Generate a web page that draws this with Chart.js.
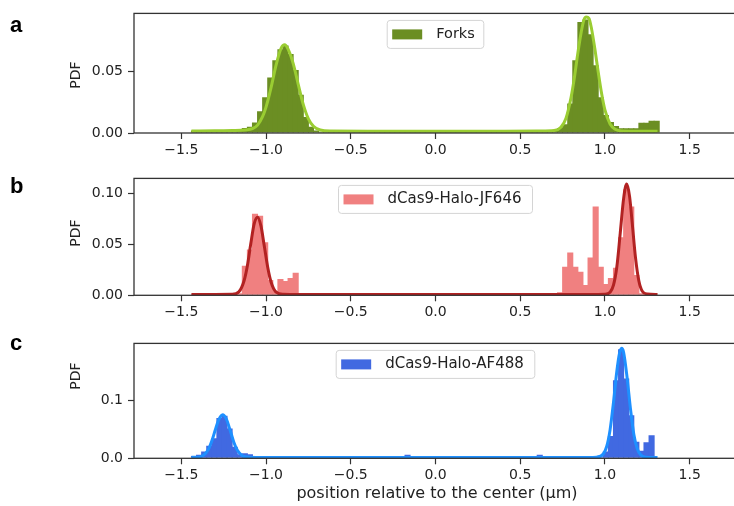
<!DOCTYPE html>
<html>
<head>
<meta charset="utf-8">
<script src="https://cdn.jsdelivr.net/npm/chart.js@4.4.1/dist/chart.umd.min.js"></script>
<style>
html,body{margin:0;padding:0;background:#fff;overflow:hidden;width:734px;height:506px;}
.panel{position:absolute;left:0;}
</style>
</head>
<body>
<canvas id="chartA" class="panel" style="top:0px" width="740" height="165"></canvas>
<canvas id="chartB" class="panel" style="top:165px" width="740" height="165"></canvas>
<canvas id="chartC" class="panel" style="top:330px" width="740" height="176"></canvas>
<script>
// histogram bin centres (um), shared by the three panels
var binCenters=[
	-1.425,-1.395,-1.365,-1.335,-1.305,-1.275,-1.245,-1.215,-1.185,-1.155,
	-1.125,-1.095,-1.065,-1.035,-1.005,-0.975,-0.945,-0.915,-0.885,-0.855,
	-0.825,-0.795,-0.765,-0.735,-0.705,-0.675,-0.645,-0.615,-0.585,-0.555,
	-0.525,-0.495,-0.465,-0.435,-0.405,-0.375,-0.345,-0.315,-0.285,-0.255,
	-0.225,-0.195,-0.165,-0.135,-0.105,-0.075,-0.045,-0.015,0.015,0.045,
	0.075,0.105,0.135,0.165,0.195,0.225,0.255,0.285,0.315,0.345,
	0.375,0.405,0.435,0.465,0.495,0.525,0.555,0.585,0.615,0.645,
	0.675,0.705,0.735,0.765,0.795,0.825,0.855,0.885,0.915,0.945,
	0.975,1.005,1.035,1.065,1.095,1.125,1.155,1.185,1.215,1.245,
	1.275,1.305];

// a: forks
var forksPdf=[
	0.002,0.002,0.001,0.001,0.001,0.001,0.002,0.002,0.003,0.003,
	0.004,0.005,0.0086,0.0177,0.029,0.045,0.059,0.068,0.071,0.064,
	0.051,0.031,0.013,0.005,0.002,0.001,0.001,0.001,0.002,0.001,
	0.001,0.001,0.001,0.001,0.001,0.001,0.002,0.001,0.001,0.001,
	0.001,0.001,0.002,0.001,0.001,0.001,0.001,0.001,0.002,0.001,
	0.001,0.001,0.001,0.001,0.002,0.001,0.001,0.001,0.001,0.001,
	0.001,0.001,0.001,0.001,0.001,0.001,0.001,0.002,0.001,0.001,
	0.002,0.002,0.004,0.007,0.024,0.059,0.090,0.092,0.080,0.055,
	0.029,0.0145,0.009,0.0056,0.0038,0.0038,0.0038,0.0038,0.0083,0.0083,
	0.0099,0.0099];
var forksFitX=[-1.44,-1.30,-1.20,-1.12,-1.08,-1.05,-1.02,-1.00,-0.97,-0.94,-0.91,-0.89,-0.87,-0.84,-0.81,-0.78,-0.75,-0.72,-0.68,-0.62,-0.40,0.00,0.40,0.62,0.70,0.74,0.77,0.80,0.82,0.84,0.86,0.875,0.89,0.905,0.92,0.94,0.96,0.98,1.00,1.03,1.06,1.10,1.20,1.31];
var forksFitY=[0.0016,0.0018,0.002,0.0025,0.0035,0.0064,0.0135,0.021,0.037,0.0555,0.069,0.0715,0.068,0.0565,0.0395,0.023,0.0115,0.0055,0.0024,0.0016,0.0015,0.0015,0.0015,0.0016,0.002,0.0047,0.012,0.029,0.0455,0.065,0.082,0.0915,0.094,0.093,0.085,0.0685,0.0495,0.032,0.0185,0.0073,0.003,0.0017,0.0015,0.0015];

// b: dCas9-Halo-JF646
var jf646Pdf=[
	0.001,0.001,0.001,0.001,0.002,0.001,0.001,0.001,0.001,0.002,
	0.029,0.045,0.080,0.078,0.052,0.015,0.004,0.016,0.014,0.017,
	0.022,0.002,0.002,0.001,0.001,0.001,0,0,0,0,
	0,0,0,0,0,0,0,0,0,0,
	0,0,0,0,0,0,0,0,0,0,
	0,0,0,0,0,0,0,0,0,0,
	0,0,0,0.002,0,0,0,0,0,0,
	0.001,0.002,0.003,0.028,0.042,0.028,0.023,0.010,0.037,0.087,
	0.028,0.011,0.017,0.027,0.057,0.104,0.087,0.020,0.002,0.001,
	0,0];
var jf646FitX=[-1.44,-1.30,-1.20,-1.16,-1.13,-1.11,-1.09,-1.07,-1.05,-1.03,-1.01,-0.99,-0.97,-0.94,-0.90,-0.80,0.00,0.90,1.00,1.03,1.05,1.07,1.09,1.11,1.128,1.145,1.16,1.18,1.20,1.22,1.25,1.31];
var jf646FitY=[0.0008,0.0009,0.001,0.0034,0.014,0.029,0.0505,0.070,0.0765,0.068,0.048,0.0275,0.0128,0.003,0.001,0.0008,0.0008,0.0008,0.001,0.003,0.010,0.028,0.061,0.095,0.109,0.097,0.072,0.037,0.014,0.004,0.0012,0.0008];

// c: dCas9-Halo-AF488
var af488Pdf=[
	0.004,0.006,0.012,0.022,0.035,0.070,0.074,0.052,0.020,0.007,
	0.009,0.007,0.002,0.001,0.001,0.001,0.001,0.001,0.001,0.001,
	0.001,0.001,0.002,0.001,0.001,0.001,0.001,0.001,0.001,0.001,
	0.001,0.001,0.001,0.001,0.001,0.001,0.001,0.001,0.001,0.001,
	0.001,0.001,0.006,0.001,0.001,0.001,0.001,0.001,0.001,0.001,
	0.001,0.001,0.001,0.001,0.001,0.001,0.001,0.001,0.001,0.001,
	0.001,0.001,0.001,0.001,0.001,0.001,0.001,0.001,0.006,0.001,
	0.001,0.001,0.001,0.001,0.001,0.001,0.001,0.001,0.001,0.001,
	0.002,0.012,0.039,0.136,0.190,0.139,0.075,0.029,0.013,0.028,
	0.040,0];
var af488FitX=[-1.44,-1.40,-1.37,-1.34,-1.32,-1.30,-1.28,-1.256,-1.235,-1.21,-1.19,-1.17,-1.14,-1.10,-1.00,0.00,0.90,0.95,0.99,1.01,1.03,1.05,1.07,1.085,1.098,1.11,1.13,1.15,1.17,1.19,1.21,1.24,1.31];
var af488FitY=[0.002,0.002,0.005,0.0155,0.030,0.0487,0.0665,0.076,0.069,0.047,0.028,0.0145,0.0046,0.002,0.0015,0.0015,0.0015,0.002,0.0075,0.0205,0.0495,0.097,0.152,0.182,0.1915,0.184,0.1415,0.087,0.042,0.017,0.006,0.002,0.0015];

var xTicks=[-1.5,-1.0,-0.5,0.0,0.5,1.0,1.5];
var forksYTicks=[0,0.05];
var jf646YTicks=[0,0.05,0.10];
var af488YTicks=[0,0.1];

function fmt(v,d){
	return v.toFixed(d).replace("-","\u2212");
}

// frame, legend, panel letter and axis labels
var panelDecor={
	id:"panelDecor",
	afterDraw:function(chart,args,o){
		var ctx=chart.ctx,a=chart.chartArea;
		ctx.save();
		ctx.strokeStyle="#333";
		ctx.lineWidth=1.3;
		ctx.strokeRect(a.left,a.top,a.right-a.left,a.bottom-a.top);

		var ds=chart.data.datasets[0];
		ctx.font=o.legendFont+"px 'DejaVu Sans'";
		var tw=ctx.measureText(ds.label).width;
		var w=5+30+14+tw+o.legendPad;
		var h=28;
		var cx=435.5;
		var x=cx-w/2,y=a.top+7;
		ctx.beginPath();
		ctx.roundRect(x,y,w,h,3);
		ctx.fillStyle="rgba(255,255,255,0.8)";
		ctx.fill();
		ctx.strokeStyle="#d4d4d4";
		ctx.lineWidth=1;
		ctx.stroke();
		ctx.fillStyle=ds.backgroundColor;
		ctx.fillRect(x+5,y+h/2-5,30,10);
		ctx.fillStyle="#222";
		ctx.textBaseline="middle";
		ctx.textAlign="left";
		ctx.fillText(ds.label,x+49,y+h/2);

		ctx.fillStyle="#000";
		ctx.font="bold 22px 'Liberation Sans'";
		ctx.textBaseline="alphabetic";
		ctx.fillText(o.letter,10,o.letterY);

		ctx.fillStyle="#222";
		if(o.xTitle){
			ctx.font="16px 'DejaVu Sans'";
			ctx.textAlign="center";
			ctx.textBaseline="middle";
			ctx.fillText(o.xTitle,437,o.xTitleY);
		}
		ctx.font="14px 'DejaVu Sans'";
		ctx.translate(76,o.ylabelY);
		ctx.rotate(-Math.PI/2);
		ctx.textAlign="center";
		ctx.textBaseline="middle";
		ctx.fillText("PDF",0,0);
		ctx.restore();
	}
};

function axisGrid(){
	return {display:true,offset:false,drawOnChartArea:false,drawTicks:true,tickLength:6,tickColor:"#333",tickWidth:1.2};
}

function makePanel(id,p){
	var bars=[],fit=[];
	for(var i=0;i<binCenters.length;i++){
		bars.push({x:binCenters[i],y:p.pdf[i]});
	}
	for(var j=0;j<p.fitX.length;j++){
		fit.push({x:p.fitX[j],y:p.fitY[j]});
	}
	return new Chart(document.getElementById(id),{
		type:"bar",
		data:{
			datasets:[{
				type:"bar",
				label:p.label,
				data:bars,
				backgroundColor:p.barColor,
				borderWidth:0,
				// slight overlap so neighbouring bins leave no seams
				barPercentage:1.2,
				categoryPercentage:1,
				order:2
			},{
				type:"line",
				label:"fit",
				data:fit,
				borderColor:p.lineColor,
				borderWidth:3,
				pointRadius:0,
				cubicInterpolationMode:"monotone",
				fill:false,
				order:1
			}]
		},
		options:{
			responsive:false,
			animation:false,
			events:[],
			layout:{padding:{top:p.top,right:4,left:0,bottom:0}},
			plugins:{
				legend:{display:false},
				tooltip:{enabled:false},
				panelDecor:p.decor
			},
			scales:{
				x:{
					type:"linear",
					offset:false,
					min:-1.779,
					max:1.773,
					afterFit:function(s){s.height=p.xHeight;},
					afterBuildTicks:function(s){s.ticks=xTicks.map(function(v){return {value:v};});},
					grid:axisGrid(),
					border:{display:false},
					ticks:{
						color:"#222",
						font:{family:"DejaVu Sans",size:14},
						padding:3,
						maxRotation:0,
						autoSkip:false,
						callback:function(v){return fmt(v,1);}
					}
				},
				y:{
					min:0,
					max:p.yMax,
					afterFit:function(s){s.width=134;},
					afterBuildTicks:function(s){s.ticks=p.yTicks.map(function(v){return {value:v};});},
					grid:axisGrid(),
					border:{display:false},
					ticks:{
						color:"#222",
						font:{family:"DejaVu Sans",size:14},
						padding:5,
						callback:function(v){return fmt(v,p.yDigits);}
					}
				}
			}
		},
		plugins:[panelDecor]
	});
}

makePanel("chartA",{
	label:"Forks",pdf:forksPdf,fitX:forksFitX,fitY:forksFitY,
	barColor:"#6b8e23",lineColor:"#9acd32",
	yMax:0.097,yTicks:forksYTicks,yDigits:2,
	top:12.7,xHeight:32,
	decor:{letter:"a",letterY:32,ylabelY:75,legendFont:14.5,legendPad:9}
});
makePanel("chartB",{
	label:"dCas9-Halo-JF646",pdf:jf646Pdf,fitX:jf646FitX,fitY:jf646FitY,
	barColor:"#f08080",lineColor:"#b22222",
	yMax:0.1146,yTicks:jf646YTicks,yDigits:2,
	top:10,xHeight:34.7,
	decor:{letter:"b",letterY:28,ylabelY:68,legendFont:15,legendPad:11}
});
makePanel("chartC",{
	label:"dCas9-Halo-AF488",pdf:af488Pdf,fitX:af488FitX,fitY:af488FitY,
	barColor:"#4169e1",lineColor:"#1e90ff",
	yMax:0.2,yTicks:af488YTicks,yDigits:1,
	top:8.3,xHeight:47.7,
	decor:{letter:"c",letterY:20,ylabelY:46,legendFont:15,legendPad:11,
		xTitle:"position relative to the center (\u03bcm)",xTitleY:164}
});
</script>
</body>
</html>
